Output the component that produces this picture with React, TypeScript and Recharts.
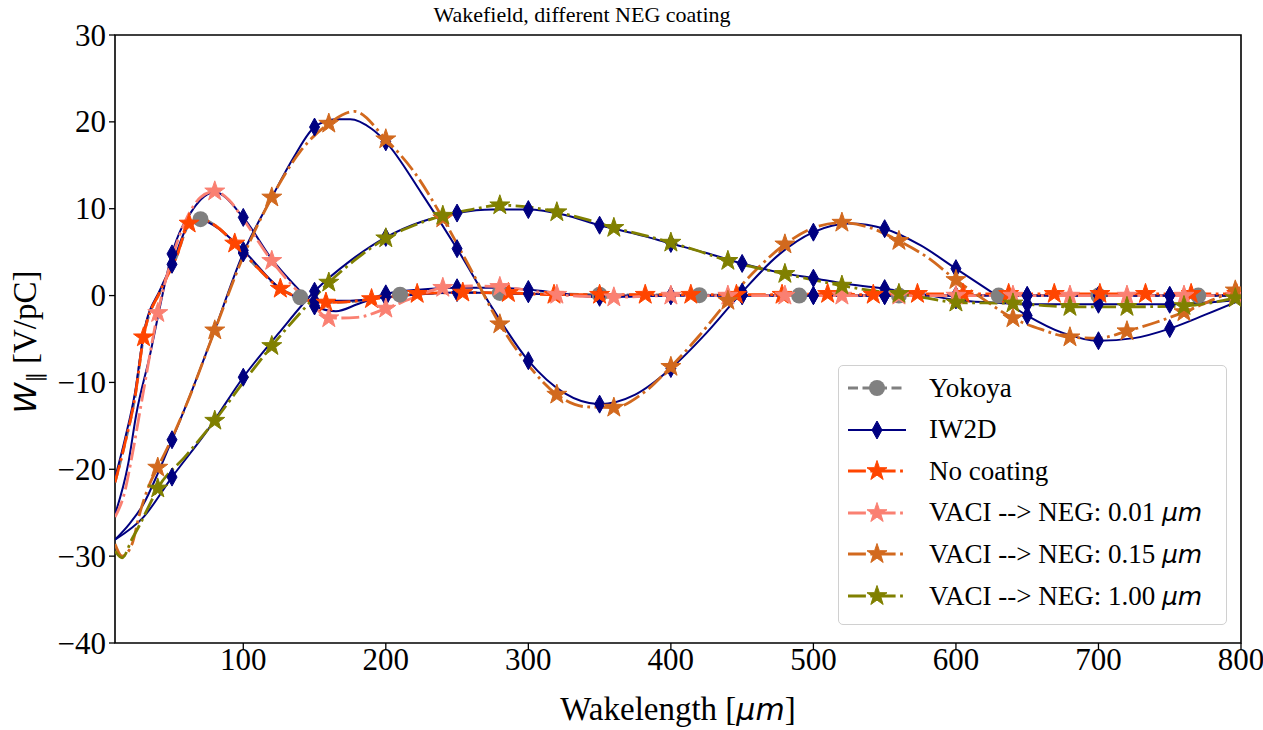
import React from "react";
import { LineChart, Line, XAxis, YAxis, ReferenceArea, Legend } from "recharts";

type Pt = [number, number];

const X_TICKS = [100, 200, 300, 400, 500, 600, 700, 800];
const Y_TICKS = [-40, -30, -20, -10, 0, 10, 20, 30];

// Yokoya (analytic)
const YOKOYA: Pt[] = [
  [10, -21.5], [17, -17], [24, -11.7], [30, -4.8], [42, 0.6], [53, 4.4], [62, 8.2], [70, 8.8],
  [80, 8.1], [94, 6.0], [110, 3.2], [126, 0.8], [140, -0.2], [158, -0.8], [175, -0.7], [190, -0.4],
  [210, 0.1], [254, 0.35], [280, 0.3], [350, 0.1], [420, 0.05], [490, 0], [560, 0], [630, 0],
  [700, 0], [770, 0], [800, 0],
];
const YOKOYA_MARKS = [70, 140, 210, 280, 350, 420, 490, 560, 630, 700, 770];

// IW2D, one curve per coating case
const IW2D_NC: Pt[] = [
  [10, -21], [17, -16.5], [24, -11.2], [30, -4.5], [42, 0.8], [50, 3.6], [62, 8.2], [70, 8.7],
  [80, 8.0], [100, 5.2], [126, 0.8], [150, -0.6], [175, -0.6], [200, -0.2], [250, 0.35], [300, 0.2],
  [350, 0], [400, 0], [450, 0], [500, 0], [550, 0], [600, 0], [650, 0], [700, 0], [750, 0], [800, 0],
];
const IW2D_FAST: Pt[] = [
  [10, -25.2], [19, -19.6], [25, -13.6], [35, -6.5], [40, -2.5], [50, 4.8], [65, 10], [80, 11.9],
  [100, 9.0], [120, 4.2], [140, 0.5], [150, -1.2], [165, -1.8], [180, -1.0], [200, 0.2], [225, 0.7],
  [250, 0.9], [275, 0.9], [300, 0.7], [325, 0.2], [350, -0.2], [375, -0.1], [400, 0], [450, 0],
  [500, 0], [550, 0], [600, 0], [650, 0], [700, 0], [750, 0], [800, 0],
];
const IW2D_MID: Pt[] = [
  [10, -28.1], [20, -26.3], [30, -24], [40, -20.5], [50, -16.6], [65, -10.5], [79, -4.4], [100, 4.9],
  [120, 11.3], [135, 15.8], [150, 19.4], [165, 20.3], [175, 20.3], [190, 19.2], [200, 17.7],
  [225, 11.8], [250, 5.4], [275, -1.5], [300, -7.5], [325, -11.2], [350, -12.5], [375, -11.4],
  [400, -8.4], [425, -4.3], [450, 0.4], [475, 4.6], [500, 7.3], [525, 8.3], [550, 7.7], [575, 5.8],
  [600, 3.1], [625, 0.4], [650, -2.3], [675, -4.3], [700, -5.2], [725, -4.9], [750, -3.8],
  [775, -2.2], [800, -0.5],
];
const IW2D_SLOW: Pt[] = [
  [10, -28.1], [30, -25.5], [50, -20.9], [75, -15.5], [100, -9.4], [125, -4.3], [150, 0.5],
  [175, 4.0], [200, 6.7], [225, 8.5], [250, 9.5], [275, 9.9], [300, 9.9], [325, 9.3], [350, 8.1],
  [375, 7.1], [400, 6.0], [425, 4.9], [450, 3.7], [475, 2.7], [500, 2.0], [525, 1.3], [550, 0.8],
  [575, 0.2], [600, -0.5], [625, -0.8], [650, -1.0], [700, -1.0], [750, -1.0], [775, -0.8],
  [800, -0.5],
];
const IW2D_MARKS = [50, 100, 150, 200, 250, 300, 350, 400, 450, 500, 550, 600, 650, 700, 750];

// No coating
const NO_COATING: Pt[] = [
  [10, -21.5], [17, -17], [24, -11.7], [30, -4.8], [42, 0.6], [53, 4.4], [62, 8.3], [70, 8.8],
  [80, 8.1], [94, 6.0], [110, 3.2], [126, 0.8], [142, -0.4], [158, -0.8], [175, -0.7], [190, -0.4],
  [206, -0.1], [222, 0.2], [254, 0.35], [286, 0.3], [318, 0.1], [350, 0.1], [382, 0.1], [414, 0.1],
  [446, 0.1], [478, 0.1], [510, 0.2], [542, 0.1], [573, 0.2], [605, 0.2], [637, 0.2], [669, 0.2],
  [701, 0.2], [733, 0.2], [765, 0.2], [797, 0.2], [800, 0.2],
];
const NO_COATING_MARKS = [
  30, 62, 94, 126, 158, 190, 222, 254, 286, 318, 350, 382, 414, 446, 478, 510, 542, 573, 605, 637,
  669, 701, 733, 765, 797,
];

// VACI --> NEG 0.01 um
const NEG_001: Pt[] = [
  [10, -25.5], [17, -22.5], [21, -19.3], [30, -11], [40, -2.0], [50, 4.3], [60, 8.8], [70, 11.3],
  [80, 12.0], [90, 11.0], [100, 8.8], [120, 4.0], [140, 0.2], [150, -1.3], [160, -2.6], [180, -2.5],
  [200, -1.5], [220, -0.2], [240, 0.9], [260, 1.1], [280, 1.0], [300, 0.6], [320, 0.1], [340, -0.1],
  [360, -0.2], [380, -0.1], [400, 0], [440, 0], [480, 0], [520, 0], [560, 0], [600, 0], [640, 0],
  [680, 0], [720, 0], [760, 0], [796, 0], [800, 0],
];

// VACI --> NEG 0.15 um
const NEG_015: Pt[] = [
  [10, -28.6], [15, -30.0], [22, -28.6], [27, -25.3], [34, -21.8], [40, -19.8], [50, -16.4],
  [60, -12.6], [80, -4.0], [100, 4.5], [120, 11.3], [140, 16.6], [160, 19.8], [178, 21.2],
  [200, 18.0], [220, 14.2], [240, 8.9], [260, 2.9], [280, -3.3], [300, -8.0], [320, -11.4],
  [340, -12.8], [360, -12.9], [380, -11.3], [400, -8.2], [420, -4.6], [440, -0.6], [460, 3.0],
  [480, 5.9], [500, 7.8], [520, 8.4], [540, 7.8], [560, 6.3], [580, 4.4], [600, 1.8], [620, -0.5],
  [640, -2.6], [660, -3.9], [680, -4.8], [700, -4.9], [720, -4.1], [740, -3.1], [760, -1.9],
  [780, -0.5], [796, 0.6], [800, 0.9],
];

// VACI --> NEG 1.00 um
const NEG_100: Pt[] = [
  [10, -29.4], [15, -30.2], [22, -28], [27, -26.5], [33, -24.5], [40, -22.2], [60, -18.4],
  [80, -14.4], [100, -10.0], [120, -5.8], [140, -2.0], [160, 1.5], [180, 4.3], [200, 6.6],
  [220, 8.1], [240, 9.2], [260, 9.9], [280, 10.4], [300, 10.2], [320, 9.6], [340, 8.8], [360, 7.8],
  [380, 7.0], [400, 6.1], [420, 5.1], [440, 4.0], [460, 3.2], [480, 2.5], [500, 1.8], [520, 1.15],
  [540, 0.6], [560, 0.2], [580, -0.3], [600, -0.8], [640, -0.9], [680, -1.3], [720, -1.3],
  [760, -1.2], [780, -0.8], [796, -0.3], [800, -0.2],
];
const NEG_MARKS = [
  40, 80, 120, 160, 200, 240, 280, 320, 360, 400, 440, 480, 520, 560, 600, 640, 680, 720, 760, 796,
];

const SERIF = "'Liberation Serif', 'Times New Roman', serif";
const MATH = "'DejaVu Sans', sans-serif";
const TICK_FS = 31;

const GRAY = "#808080";
const NAVY = "#000080";
const RED = "#ff4500";
const SALMON = "#fa8072";
const CHOC = "#d2691e";
const OLIVE = "#808000";

const DASHED = "10 4.5";
const DASHDOT = "17.9 4.5 2.8 4.5";

type Shape = "circle" | "diamond" | "star";

const LEGEND_ROWS: { name: string; um?: boolean; color: string; shape: Shape; dash?: string }[] = [
  { name: "Yokoya", color: GRAY, shape: "circle", dash: DASHED },
  { name: "IW2D", color: NAVY, shape: "diamond" },
  { name: "No coating", color: RED, shape: "star", dash: DASHDOT },
  { name: "VACI --> NEG: 0.01 ", um: true, color: SALMON, shape: "star", dash: DASHDOT },
  { name: "VACI --> NEG: 0.15 ", um: true, color: CHOC, shape: "star", dash: DASHDOT },
  { name: "VACI --> NEG: 1.00 ", um: true, color: OLIVE, shape: "star", dash: DASHDOT },
];

const rows = (pts: Pt[]) => pts.map(([x, y]) => ({ x, y }));

function starPath(cx: number, cy: number, R: number, r: number) {
  let d = "";
  for (let i = 0; i < 10; i++) {
    const a = -Math.PI / 2 + (i * Math.PI) / 5;
    const rad = i % 2 === 0 ? R : r;
    d += (i === 0 ? "M" : "L") + (cx + rad * Math.cos(a)).toFixed(2) + "," + (cy + rad * Math.sin(a)).toFixed(2);
  }
  return d + "Z";
}

function Marker({ cx, cy, shape, color }: { cx: number; cy: number; shape: Shape; color: string }) {
  if (shape === "circle") return <circle cx={cx} cy={cy} r={8} fill={color} />;
  if (shape === "diamond")
    return (
      <path
        d={`M${cx},${cy - 9}L${cx + 5},${cy}L${cx},${cy + 9}L${cx - 5},${cy}Z`}
        fill={color}
        stroke={color}
        strokeWidth={1}
      />
    );
  return <path d={starPath(cx, cy, 10.5, 4.1)} fill={color} stroke={color} strokeWidth={1} strokeLinejoin="round" />;
}

function makeDot(shape: Shape, color: string, marks: number[]) {
  const set = new Set(marks);
  return (props: any) => {
    const { cx, cy, payload, index } = props;
    const key = `m-${index}`;
    if (cx == null || cy == null || !set.has(payload.x)) return <g key={key} />;
    return (
      <g key={key}>
        <Marker cx={cx} cy={cy} shape={shape} color={color} />
      </g>
    );
  };
}

function XTick(props: any) {
  const { x, y, payload } = props;
  return (
    <text x={x} y={y + 19} textAnchor="middle" fontFamily={SERIF} fontSize={TICK_FS} fill="#000">
      {payload.value}
    </text>
  );
}

function YTick(props: any) {
  const { x, y, payload } = props;
  const v = payload.value < 0 ? `\u2212${Math.abs(payload.value)}` : `${payload.value}`;
  return (
    <text x={x - 1} y={y + 10.5} textAnchor="end" fontFamily={SERIF} fontSize={TICK_FS} fill="#000">
      {v}
    </text>
  );
}

function XLabel() {
  return (
    <text x={678} y={720} textAnchor="middle" fontFamily={SERIF} fontSize={33} fill="#000">
      Wakelength [<tspan fontFamily={MATH} fontStyle="italic" fontSize={30}>μm</tspan>]
    </text>
  );
}

function YLabel() {
  return (
    <text transform="translate(36,342) rotate(-90)" textAnchor="middle" fontFamily={SERIF} fontSize={33} fill="#000">
      <tspan fontFamily={MATH} fontStyle="italic" fontSize={31}>W</tspan>
      <tspan fontFamily={MATH} fontSize={21} dy={6}>∥</tspan>
      <tspan dy={-6}> [V/pC]</tspan>
    </text>
  );
}

function LegendBox() {
  return (
    <div
      style={{
        position: "relative",
        width: 389,
        height: 260,
        boxSizing: "border-box",
        border: "1.5px solid #d0d0d0",
        borderRadius: 5,
        background: "rgba(255,255,255,0.85)",
        fontFamily: SERIF,
        fontSize: 27,
        color: "#000",
      }}
    >
      {LEGEND_ROWS.map((r, i) => (
        <div
          key={r.name + i}
          style={{ position: "absolute", left: 0, top: 22 + i * 41.6 - 18, height: 36, display: "flex", alignItems: "center", whiteSpace: "nowrap" }}
        >
          <svg width={90} height={36} style={{ display: "block" }}>
            <line
              x1={9}
              x2={67}
              y1={18}
              y2={18}
              stroke={r.color}
              strokeWidth={r.color === NAVY ? 2 : 2.8}
              strokeDasharray={r.dash}
            />
            <Marker cx={38} cy={18} shape={r.shape} color={r.color} />
          </svg>
          <span>
            {r.name}
            {r.um ? <span style={{ fontFamily: MATH, fontStyle: "italic", fontSize: 25 }}>μm</span> : null}
          </span>
        </div>
      ))}
    </div>
  );
}

export default function App() {
  const lineCommon = { type: "monotone" as const, dataKey: "y", isAnimationActive: false, activeDot: false, legendType: "none" as const };
  return (
    <div style={{ position: "absolute", left: 0, top: 0, width: 1263, height: 730, background: "#fff", overflow: "hidden" }}>
      <LineChart width={1263} height={730} margin={{ top: 35, right: 22, bottom: 0, left: 0 }}>
        <XAxis
          type="number"
          dataKey="x"
          domain={[10, 800]}
          ticks={X_TICKS}
          allowDataOverflow
          axisLine={false}
          tickLine={{ stroke: "#000", strokeWidth: 1.3 }}
          tickSize={6}
          height={87}
          tick={<XTick />}
          label={<XLabel />}
        />
        <YAxis
          type="number"
          dataKey="y"
          domain={[-40, 30]}
          ticks={Y_TICKS}
          allowDataOverflow
          axisLine={false}
          tickLine={{ stroke: "#000", strokeWidth: 1.3 }}
          tickSize={6}
          width={115}
          tick={<YTick />}
          label={<YLabel />}
        />
        <Line {...lineCommon} data={rows(YOKOYA)} stroke={GRAY} strokeWidth={2.8} strokeDasharray={DASHED} dot={makeDot("circle", GRAY, YOKOYA_MARKS)} />
        <Line {...lineCommon} data={rows(IW2D_NC)} stroke={NAVY} strokeWidth={2} dot={makeDot("diamond", NAVY, IW2D_MARKS)} />
        <Line {...lineCommon} data={rows(IW2D_FAST)} stroke={NAVY} strokeWidth={2} dot={makeDot("diamond", NAVY, IW2D_MARKS)} />
        <Line {...lineCommon} data={rows(IW2D_MID)} stroke={NAVY} strokeWidth={2} dot={makeDot("diamond", NAVY, IW2D_MARKS)} />
        <Line {...lineCommon} data={rows(IW2D_SLOW)} stroke={NAVY} strokeWidth={2} dot={makeDot("diamond", NAVY, IW2D_MARKS)} />
        <Line {...lineCommon} data={rows(NO_COATING)} stroke={RED} strokeWidth={2.8} strokeDasharray={DASHDOT} dot={makeDot("star", RED, NO_COATING_MARKS)} />
        <Line {...lineCommon} data={rows(NEG_001)} stroke={SALMON} strokeWidth={2.8} strokeDasharray={DASHDOT} dot={makeDot("star", SALMON, NEG_MARKS)} />
        <Line {...lineCommon} data={rows(NEG_015)} stroke={CHOC} strokeWidth={2.8} strokeDasharray={DASHDOT} dot={makeDot("star", CHOC, NEG_MARKS)} />
        <Line {...lineCommon} data={rows(NEG_100)} stroke={OLIVE} strokeWidth={2.8} strokeDasharray={DASHDOT} dot={makeDot("star", OLIVE, NEG_MARKS)} />
        <ReferenceArea x1={10} x2={800} y1={-40} y2={30} fill="none" stroke="#000" strokeWidth={1.6} />
        <Legend
          layout="vertical"
          align="center"
          verticalAlign="middle"
          content={() => <LegendBox />}
          wrapperStyle={{ left: 838, top: 365, width: 389, height: 260 }}
        />
      </LineChart>
      <div
        style={{
          position: "absolute",
          left: 382,
          width: 400,
          top: 1,
          textAlign: "center",
          fontFamily: SERIF,
          fontSize: 22,
          lineHeight: "28px",
          color: "#000",
        }}
      >
        Wakefield, different NEG coating
      </div>
    </div>
  );
}
